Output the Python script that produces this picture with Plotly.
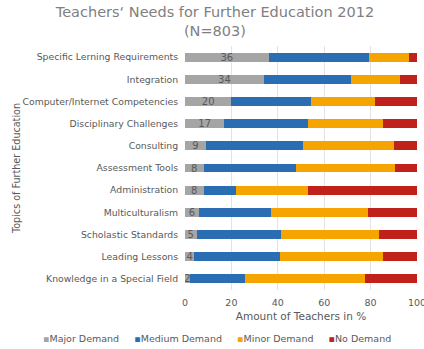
import plotly.graph_objects as go

topics = [
    "Specific Lerning Requirements",
    "Integration",
    "Computer/Internet Competencies",
    "Disciplinary Challenges",
    "Consulting",
    "Assessment Tools",
    "Administration",
    "Multiculturalism",
    "Scholastic Standards",
    "Leading Lessons",
    "Knowledge in a Special Field",
]
major = [36, 34, 20, 17, 9, 8, 8, 6, 5, 4, 2]
medium = [43.5, 37.5, 34.5, 36, 42, 40, 14, 31, 36.5, 37, 24]
minor = [17, 21, 27.5, 32.5, 39, 42.5, 31, 42, 42, 44.5, 51.5]
no_demand = [3.5, 7.5, 18, 14.5, 10, 9.5, 47, 21, 16.5, 14.5, 22.5]

series_names = ["Major Demand", "Medium Demand", "Minor Demand", "No Demand"]
colors = ["#a5a5a5", "#2a6db3", "#f5a400", "#c0221b"]
font_family = "DejaVu Sans"
text_gray = "#595959"

fig = go.Figure()
for name, vals, col in zip(series_names, [major, medium, minor, no_demand], colors):
    kw = {}
    if name == "Major Demand":
        kw = dict(
            text=[str(v) for v in vals],
            textposition="inside",
            insidetextanchor="middle",
            textangle=0,
            constraintext="none",
            insidetextfont=dict(color=text_gray, size=10, family=font_family),
        )
    fig.add_trace(go.Bar(
        y=topics, x=vals, name=name, orientation="h",
        marker=dict(color=col, line=dict(width=0)),
        hoverinfo="skip", showlegend=False, **kw,
    ))

# Legend drawn as one line of text (small coloured squares + names), like the reference
sep = "\u00a0" * 5
legend_text = sep.join(
    f"<span style='color:{c}'>▪</span>{n}" for n, c in zip(series_names, colors)
)

fig.update_layout(
    barmode="stack",
    bargap=0.6,
    width=424, height=349,
    margin=dict(l=185, r=7, t=46, b=59, autoexpand=False),
    paper_bgcolor="white", plot_bgcolor="white",
    font=dict(family=font_family, color=text_gray, size=9),
    title=dict(
        text="Teachers‘ Needs for Further Education 2012<br>(N=803)",
        x=0.507, xanchor="center", yref="container", y=0.95, yanchor="top",
        font=dict(size=14.5, color="#7f7f7f", family=font_family),
    ),
    showlegend=False,
    annotations=[dict(
        text=legend_text, xref="paper", yref="paper",
        x=0.138, y=-0.2, xanchor="center", yanchor="middle",
        showarrow=False, font=dict(size=9.5, color=text_gray, family=font_family),
    )],
)
fig.update_xaxes(
    range=[0, 100], tickvals=[0, 20, 40, 60, 80, 100],
    showgrid=True, gridcolor="#e3e3e3", gridwidth=1,
    zeroline=False, showline=False, ticks="",
    ticklabeloverflow="allow", ticklabelstandoff=5,
    tickfont=dict(size=9.5, color=text_gray),
    title=dict(text="Amount of Teachers in %", font=dict(size=10.5, color=text_gray), standoff=6),
)
fig.update_yaxes(
    autorange="reversed", showgrid=False, zeroline=False, ticks="",
    tickfont=dict(size=9.3, color=text_gray), ticksuffix="  ",
    title=dict(text="Topics of Further Education", font=dict(size=9.6, color=text_gray), standoff=0),
)

fig.write_html("out.html")
